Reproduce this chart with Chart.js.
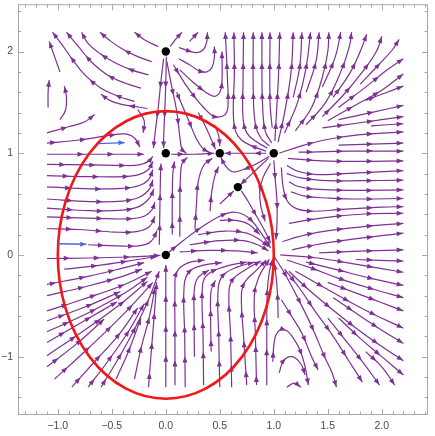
<!DOCTYPE html>
<html><head><meta charset="utf-8">
<script src="https://cdn.jsdelivr.net/npm/chart.js@4.4.1/dist/chart.umd.min.js"></script>
<style>html,body{margin:0;padding:0;background:#fff;}canvas{display:block;}</style>
</head><body>
<canvas id="c" width="435" height="436"></canvas>
<script>
// ---------- axis / tick data ----------
const xTickValues = [-1, -0.5, 0, 0.5, 1, 1.5, 2];
const xTickLabels = ['\u22121.0', '\u22120.5', '0.0', '0.5', '1.0', '1.5', '2.0'];
const yTickValues = [-1, 0, 1, 2];
const yTickLabels = ['\u22121', '0', '1', '2'];
const xRange = [-1.3685, 2.4278];
const yRange = [-1.5737, 2.4654];
const xMinorStep = 0.1, yMinorStep = 0.2;

// ---------- marked points ----------
const equilibria = [[0, 2], [0, 1], [0.5, 1], [1, 1], [0.667, 0.667], [0, 0]];
// ---------- red ellipse (centre, semi-axes) ----------
const ellipseCenter = [0, 0];
const ellipseRadii = [1, 1.414];
// ---------- blue vectors ----------
const blueArrows = [
  [[-0.625, 1.095], [-0.38, 1.105]],
  [[-1.0, 0.11], [-0.735, 0.105]]
];

// ---------- streamlines (in flow direction) ----------
const streamsLeft = [
  [[-1.1,1.2],[-0.9,1.26],[-0.75,1.31],[-0.66,1.38]],
  [[-1.1,1.1],[-0.8,1.13],[-0.55,1.17],[-0.38,1.19],[-0.29,1.15],[-0.24,1.06]],
  [[-1.1,0.99],[-0.8,0.99],[-0.5,0.99],[-0.2,0.99]],
  [[-1.1,0.89],[-0.7,0.885],[-0.4,0.88],[-0.25,0.885],[-0.16,0.92],[-0.12,0.97]],
  [[-1.1,0.78],[-0.7,0.77],[-0.4,0.77],[-0.25,0.79],[-0.16,0.84],[-0.12,0.92]],
  [[-1.1,0.67],[-0.7,0.65],[-0.4,0.655],[-0.25,0.68],[-0.16,0.74],[-0.12,0.84]],
  [[-1.1,0.55],[-0.7,0.525],[-0.4,0.53],[-0.24,0.57],[-0.15,0.65],[-0.12,0.74]],
  [[-1.1,0.46],[-0.7,0.435],[-0.4,0.44],[-0.24,0.48],[-0.15,0.56],[-0.11,0.65]],
  [[-1.1,0.375],[-0.65,0.36],[-0.35,0.355],[-0.2,0.38],[-0.13,0.44],[-0.1,0.52]],
  [[-1.1,0.26],[-0.8,0.25],[-0.47,0.225],[-0.27,0.23],[-0.15,0.28],[-0.1,0.38]],
  [[-0.72,0.1],[-0.45,0.09],[-0.25,0.09],[-0.14,0.13],[-0.08,0.24]],
  [[-1.1,-0.035],[-0.7,-0.03],[-0.35,-0.02],[-0.05,-0.005]],
  [[-0.06,0.1],[-0.055,0.45],[-0.05,0.75],[-0.045,0.9]]
];
const streamsLowerLeft = [
  [[-0.94,-0.14],[-0.57,-0.095],[-0.26,-0.045],[-0.08,-0.015]],
  [[-1.1,-0.29],[-0.72,-0.21],[-0.4,-0.13],[-0.2,-0.075]],
  [[-1.1,-0.4],[-0.72,-0.305],[-0.4,-0.21],[-0.22,-0.14]],
  [[-1.1,-0.55],[-0.78,-0.44],[-0.38,-0.29],[-0.13,-0.16]],
  [[-1.1,-0.65],[-0.72,-0.5],[-0.42,-0.36]],
  [[-1.1,-0.755],[-0.72,-0.57],[-0.38,-0.375],[-0.17,-0.22]],
  [[-1.1,-0.86],[-0.75,-0.645],[-0.45,-0.46]],
  [[-1.1,-0.99],[-0.78,-0.76],[-0.44,-0.5],[-0.17,-0.26]],
  [[-1.1,-1.1],[-0.81,-0.86],[-0.57,-0.63]],
  [[-1.03,-1.22],[-0.72,-0.92],[-0.38,-0.57],[-0.12,-0.27]],
  [[-0.87,-1.3],[-0.66,-1.05],[-0.44,-0.79],[-0.26,-0.52]],
  [[-0.72,-1.3],[-0.54,-1.05],[-0.35,-0.76],[-0.2,-0.48]],
  [[-0.6,-1.3],[-0.44,-1.02],[-0.29,-0.73],[-0.16,-0.44],[-0.06,-0.16]],
  [[-0.46,-1.22],[-0.35,-0.96],[-0.23,-0.62]],
  [[-0.29,-1.22],[-0.23,-0.92],[-0.15,-0.6],[-0.1,-0.32]],
  [[-0.16,-1.3],[-0.13,-0.89],[-0.1,-0.5],[-0.085,-0.27]],
  [[0.0,-1.3],[0.0,-0.9],[0.0,-0.5],[0.0,-0.1]]
];
const streamsBottom = [
  [[0.085,-1.28],[0.085,-0.8],[0.085,-0.35],[0.1,-0.17],[0.2,-0.08],[0.36,-0.05]],
  [[0.18,-1.3],[0.175,-0.8],[0.17,-0.3],[0.22,-0.16],[0.35,-0.1],[0.52,-0.075]],
  [[0.265,-1.0],[0.262,-0.6],[0.265,-0.33],[0.3,-0.22],[0.4,-0.15]],
  [[0.35,-1.28],[0.345,-0.8],[0.34,-0.3],[0.39,-0.19],[0.56,-0.11],[0.75,-0.07]],
  [[0.42,-0.95],[0.415,-0.6],[0.42,-0.35],[0.46,-0.25]],
  [[0.5,-1.3],[0.49,-0.8],[0.485,-0.33],[0.53,-0.2],[0.66,-0.12],[0.82,-0.07]],
  [[0.61,-1.3],[0.6,-0.8],[0.585,-0.36],[0.62,-0.24],[0.73,-0.15],[0.88,-0.06]],
  [[0.75,-1.28],[0.72,-0.8],[0.7,-0.4],[0.73,-0.27],[0.84,-0.15],[0.93,-0.05]],
  [[0.84,-1.28],[0.83,-0.8],[0.82,-0.4],[0.86,-0.22],[0.96,-0.04]],
  [[0.935,-1.28],[0.935,-0.8],[0.94,-0.35],[0.96,-0.16],[0.99,-0.04]],
  [[1.04,-0.62],[1.035,-0.4],[1.02,-0.2],[1.005,-0.08]],
  [[0.99,-1.05],[1.01,-0.82],[1.06,-0.735],[1.12,-0.745],[1.17,-0.8],[1.24,-0.93],[1.29,-1.1],[1.32,-1.28]],
  [[1.05,-1.16],[1.09,-1.04],[1.17,-1.0],[1.25,-1.07],[1.29,-1.18]],
  [[1.12,-1.3],[1.19,-1.26],[1.25,-1.3]]
];
const streamsLowerRight = [
  [[1.06,0.0],[1.4,-0.03],[1.7,-0.08],[2.0,-0.135],[2.2,-0.17]],
  [[1.3,-0.07],[1.6,-0.15],[1.9,-0.23],[2.2,-0.3]],
  [[1.12,-0.05],[1.35,-0.13],[1.6,-0.23],[1.9,-0.33],[2.2,-0.42]],
  [[1.5,-0.27],[1.75,-0.37],[2.0,-0.47],[2.2,-0.55]],
  [[1.2,-0.16],[1.4,-0.28],[1.65,-0.43],[1.9,-0.57],[2.2,-0.72]],
  [[1.55,-0.42],[1.8,-0.6],[2.0,-0.74],[2.2,-0.87]],
  [[1.14,-0.16],[1.3,-0.32],[1.5,-0.5],[1.75,-0.71],[2.0,-0.9],[2.2,-1.04]],
  [[1.6,-0.62],[1.8,-0.82],[2.0,-1.0],[2.2,-1.18]],
  [[1.1,-0.14],[1.24,-0.33],[1.38,-0.55],[1.55,-0.8],[1.7,-1.05],[1.82,-1.25]],
  [[1.5,-0.62],[1.65,-0.82],[1.82,-1.05],[1.98,-1.28]],
  [[1.0,-0.01],[1.1,-0.18],[1.23,-0.44],[1.35,-0.7],[1.47,-1.0],[1.54,-1.16],[1.58,-1.3]],
  [[1.07,-0.44],[1.17,-0.61],[1.26,-0.77],[1.35,-1.0],[1.41,-1.13]],
  [[1.85,-0.95],[2.0,-1.1],[2.12,-1.28]]
];
const streamsRight = [
  [[1.05,1.0],[1.25,1.07],[1.47,1.13],[1.78,1.18],[2.2,1.21]],
  [[1.6,1.08],[1.9,1.09],[2.2,1.1]],
  [[1.23,1.01],[1.7,1.02],[2.2,1.02]],
  [[1.13,0.95],[1.45,0.925],[1.8,0.92],[2.2,0.925]],
  [[1.12,0.88],[1.23,0.82],[1.4,0.79],[1.65,0.8],[2.2,0.83]],
  [[1.12,0.8],[1.26,0.755],[1.5,0.73],[1.8,0.73],[2.2,0.735]],
  [[1.14,0.72],[1.22,0.675],[1.35,0.65],[1.7,0.635],[2.2,0.64]],
  [[1.16,0.62],[1.3,0.575],[1.5,0.56],[1.8,0.55],[2.2,0.555]],
  [[1.07,0.86],[1.085,0.68],[1.12,0.54],[1.2,0.46],[1.35,0.43],[1.6,0.445],[2.0,0.47],[2.2,0.475]],
  [[1.14,0.31],[1.32,0.345],[1.57,0.38],[1.88,0.405],[2.2,0.41]],
  [[1.08,0.13],[1.23,0.18],[1.45,0.23],[1.85,0.28],[2.2,0.31]],
  [[1.17,0.05],[1.39,0.1],[1.7,0.15],[2.2,0.215]],
  [[1.42,0.02],[1.72,0.035],[2.2,0.05]],
  [[1.76,-0.045],[2.2,-0.06]],
  [[1.0,0.93],[1.015,0.72],[1.03,0.52],[1.03,0.33],[1.02,0.15]]
];
const streamsUpperRight = [
  [[0.93,1.02],[0.8,1.07],[0.7,1.13],[0.645,1.22],[0.625,1.4],[0.635,1.8],[0.63,2.19]],
  [[0.94,1.05],[0.83,1.12],[0.75,1.2],[0.715,1.35],[0.715,1.7],[0.72,2.19]],
  [[0.96,1.07],[0.88,1.15],[0.83,1.28],[0.81,1.6],[0.81,2.19]],
  [[0.98,1.1],[0.92,1.22],[0.895,1.5],[0.89,1.85],[0.89,2.19]],
  [[0.985,1.25],[0.965,1.5],[0.965,2.19]],
  [[1.01,1.12],[1.025,1.4],[1.045,1.8],[1.055,2.19]],
  [[1.04,1.11],[1.1,1.4],[1.16,1.8],[1.18,2.19]],
  [[1.18,1.55],[1.24,1.85],[1.26,2.19]],
  [[1.1,1.2],[1.22,1.5],[1.3,1.85],[1.34,2.19]],
  [[1.3,1.6],[1.39,1.9],[1.42,2.19]],
  [[1.2,1.22],[1.35,1.45],[1.45,1.75],[1.5,2.0],[1.51,2.19]],
  [[1.45,1.65],[1.57,1.95],[1.62,2.19]],
  [[1.3,1.28],[1.48,1.5],[1.62,1.8],[1.7,2.05],[1.72,2.19]],
  [[1.55,1.55],[1.7,1.78],[1.8,2.0],[1.86,2.17]],
  [[1.45,1.36],[1.65,1.58],[1.82,1.8],[1.95,2.0],[2.0,2.15]],
  [[1.8,1.68],[1.98,1.88],[2.1,2.02],[2.16,2.12]],
  [[1.6,1.45],[1.85,1.65],[2.05,1.82],[2.2,1.93]],
  [[1.5,1.32],[1.75,1.47],[2.0,1.62],[2.2,1.78]],
  [[1.85,1.52],[2.05,1.6],[2.2,1.66]],
  [[1.6,1.33],[1.9,1.4],[2.2,1.47]],
  [[1.45,1.25],[1.8,1.3],[2.2,1.36]],
  [[1.9,1.27],[2.2,1.29]]
];
const streamsTop = [
  [[0.07,1.87],[0.18,1.68],[0.27,1.55],[0.35,1.45],[0.43,1.37],[0.49,1.355],[0.55,1.38],[0.575,1.45],[0.57,1.75],[0.555,2.1],[0.55,2.19]],
  [[0.13,1.82],[0.25,1.7],[0.37,1.6],[0.45,1.56],[0.5,1.6],[0.52,1.7],[0.52,2.0]],
  [[0.12,1.93],[0.22,1.87],[0.31,1.81],[0.38,1.8],[0.43,1.85],[0.45,1.95],[0.45,2.05]],
  [[0.12,2.04],[0.2,2.01],[0.29,1.99],[0.35,2.02],[0.38,2.1],[0.385,2.19]],
  [[0.04,2.05],[0.09,2.12],[0.15,2.19]],
  [[0.22,2.1],[0.3,2.19]],
  [[-0.02,1.93],[-0.045,1.71],[-0.07,1.45],[-0.1,1.19],[-0.115,1.05]],
  [[0.005,1.95],[0.0,1.7],[-0.01,1.4],[-0.02,1.15],[-0.02,1.05]],
  [[0.01,1.9],[0.05,1.68],[0.1,1.42],[0.13,1.16],[0.15,1.04],[0.19,1.0]],
  [[0.1,1.6],[0.16,1.45],[0.22,1.3],[0.28,1.15],[0.34,1.05],[0.4,1.01]],
  [[0.3,1.4],[0.36,1.28],[0.42,1.14],[0.46,1.04]],
  [[0.45,1.28],[0.49,1.17],[0.5,1.07]],
  [[0.93,1.0],[0.75,1.0],[0.6,1.0],[0.54,1.0]],
  [[0.05,0.99],[0.25,0.99],[0.45,1.0]]
];
const streamsUpperLeft = [
  [[-0.13,1.9],[-0.26,1.95],[-0.41,2.03],[-0.52,2.11],[-0.61,2.19]],
  [[-0.16,1.77],[-0.32,1.82],[-0.47,1.89],[-0.61,1.98],[-0.72,2.08],[-0.78,2.19]],
  [[-0.23,1.64],[-0.38,1.69],[-0.54,1.77],[-0.69,1.9],[-0.81,2.05],[-0.92,2.19]],
  [[-0.29,1.51],[-0.44,1.56],[-0.6,1.64],[-0.75,1.77],[-0.87,1.93],[-0.97,2.08],[-1.05,2.19]],
  [[-0.07,2.05],[-0.19,2.11],[-0.29,2.19]],
  [[-0.98,1.33],[-0.93,1.42],[-0.92,1.55],[-0.94,1.66]],
  [[-1.09,1.45],[-1.09,1.6],[-1.08,1.72]],
  [[-0.17,1.44],[-0.29,1.46],[-0.41,1.48],[-0.52,1.52],[-0.6,1.58]],
  [[-0.26,1.43],[-0.2,1.32],[-0.21,1.2]],
  [[-0.98,1.8],[-1.03,1.95],[-1.08,2.1]]
];
const streamsInner = [
  [[0.13,0.18],[0.13,0.45],[0.135,0.75],[0.15,0.9],[0.2,0.96]],
  [[0.27,0.26],[0.285,0.52],[0.3,0.72],[0.35,0.88],[0.43,0.95]],
  [[0.41,0.43],[0.425,0.62],[0.455,0.78],[0.49,0.87]],
  [[0.06,0.2],[0.06,0.55],[0.065,0.8],[0.08,0.92]],
  [[0.96,0.97],[0.81,0.88],[0.69,0.83],[0.61,0.82],[0.55,0.88],[0.51,0.96]],
  [[0.95,0.95],[0.85,0.85],[0.75,0.75],[0.69,0.69]],
  [[0.97,0.9],[0.9,0.76],[0.87,0.62],[0.88,0.48],[0.92,0.33]],
  [[0.7,0.63],[0.76,0.53],[0.83,0.4],[0.91,0.25],[0.97,0.12]],
  [[0.5,0.5],[0.56,0.56],[0.63,0.63]],
  [[0.01,0.01],[0.16,0.14],[0.34,0.28],[0.52,0.39],[0.64,0.42],[0.76,0.37],[0.88,0.22],[0.97,0.07]],
  [[0.5,0.34],[0.65,0.34],[0.77,0.3],[0.87,0.2]],
  [[0.3,0.2],[0.55,0.235],[0.75,0.215],[0.87,0.15],[0.95,0.08]],
  [[0.22,0.1],[0.5,0.14],[0.72,0.14],[0.87,0.09],[0.95,0.04]],
  [[0.13,0.03],[0.41,0.045],[0.66,0.04],[0.85,0.02]]
];

// ---------- styles ----------
const PURPLE = 'rgb(126,48,148)';
const BLUE = 'rgb(68,108,226)';
const RED = 'rgb(240,24,24)';
const FRAME = '#a8a8a8';
const LABEL = '#4a4a4a';

const toXY = line => line.map(p => ({ x: p[0], y: p[1] }));
const datasets = [];
[streamsLeft, streamsLowerLeft, streamsBottom, streamsLowerRight, streamsRight,
 streamsUpperRight, streamsTop, streamsUpperLeft, streamsInner].forEach(group => {
  group.forEach(line => datasets.push({
    kind: 'stream', data: toXY(line), borderColor: PURPLE, borderWidth: 1.2,
    pointRadius: 0, pointHoverRadius: 0, tension: 0.4, fill: false, order: 10
  }));
});
blueArrows.forEach(line => datasets.push({
  kind: 'blue', data: toXY(line), borderColor: BLUE, borderWidth: 1.3,
  pointRadius: 0, pointHoverRadius: 0, tension: 0, fill: false, order: 5
}));
datasets.push({
  kind: 'dots', data: toXY(equilibria), showLine: false, pointRadius: 4.2,
  pointHoverRadius: 4.2, pointBackgroundColor: '#000', pointBorderWidth: 0, order: 1
});

function densePath(pts) {
  const out = [{ x: pts[0].x, y: pts[0].y }];
  for (let i = 0; i < pts.length - 1; i++) {
    const a = pts[i], b = pts[i + 1];
    const c1x = a.cp2x ?? a.x, c1y = a.cp2y ?? a.y;
    const c2x = b.cp1x ?? b.x, c2y = b.cp1y ?? b.y;
    for (let k = 1; k <= 14; k++) {
      const t = k / 14, u = 1 - t;
      out.push({
        x: u*u*u*a.x + 3*u*u*t*c1x + 3*u*t*t*c2x + t*t*t*b.x,
        y: u*u*u*a.y + 3*u*u*t*c1y + 3*u*t*t*c2y + t*t*t*b.y
      });
    }
  }
  return out;
}
function pointAt(path, cum, s) {
  let i = 1;
  while (i < cum.length - 1 && cum[i] < s) i++;
  const seg = cum[i] - cum[i - 1] || 1;
  const t = Math.max(0, Math.min(1, (s - cum[i - 1]) / seg));
  return { x: path[i-1].x + (path[i].x - path[i-1].x) * t, y: path[i-1].y + (path[i].y - path[i-1].y) * t };
}
function drawHead(ctx, tip, from, color, len, hw) {
  const ang = Math.atan2(tip.y - from.y, tip.x - from.x);
  ctx.save();
  ctx.translate(tip.x, tip.y);
  ctx.rotate(ang);
  ctx.fillStyle = color;
  ctx.beginPath();
  ctx.moveTo(0, 0);
  ctx.lineTo(-len, hw);
  ctx.lineTo(-len, -hw);
  ctx.closePath();
  ctx.fill();
  ctx.restore();
}
function drawArrows(ctx, meta, color, spacing, endOnly) {
  const path = densePath(meta.data);
  const cum = [0];
  for (let i = 1; i < path.length; i++) cum.push(cum[i-1] + Math.hypot(path[i].x - path[i-1].x, path[i].y - path[i-1].y));
  const L = cum[cum.length - 1];
  const pos = [];
  if (endOnly) pos.push(L);
  else for (let s = L - 0.5; s > 9; s -= spacing) pos.push(s);
  if (!pos.length) pos.push(L);
  pos.forEach(s => drawHead(ctx, pointAt(path, cum, s), pointAt(path, cum, Math.max(0, s - 4)), color, 6.2, 2.5));
}

let ellipseDone = false;
const drawPlugin = {
  id: 'streamDecor',
  beforeDatasetsDraw(chart) {
    ellipseDone = false;
    const { ctx, chartArea: a, scales: { x, y } } = chart;
    ctx.save();
    ctx.strokeStyle = FRAME;
    ctx.lineWidth = 1;
    ctx.strokeRect(a.left + 0.5, a.top + 0.5, a.right - a.left - 1, a.bottom - a.top - 1);
    ctx.beginPath();
    for (let v = Math.ceil(xRange[0] / xMinorStep) * xMinorStep; v <= xRange[1]; v += xMinorStep) {
      const vv = Math.round(v * 10) / 10;
      const major = xTickValues.some(t => Math.abs(t - vv) < 1e-6);
      const len = major ? 6 : 3.5;
      const px = Math.round(x.getPixelForValue(vv)) + 0.5;
      ctx.moveTo(px, a.bottom); ctx.lineTo(px, a.bottom - len);
      ctx.moveTo(px, a.top); ctx.lineTo(px, a.top + len);
    }
    for (let v = Math.ceil(yRange[0] / yMinorStep) * yMinorStep; v <= yRange[1]; v += yMinorStep) {
      const vv = Math.round(v * 10) / 10;
      const major = yTickValues.some(t => Math.abs(t - vv) < 1e-6);
      const len = major ? 6 : 3.5;
      const py = Math.round(y.getPixelForValue(vv)) + 0.5;
      ctx.moveTo(a.left, py); ctx.lineTo(a.left + len, py);
      ctx.moveTo(a.right, py); ctx.lineTo(a.right - len, py);
    }
    ctx.stroke();
    ctx.restore();
  },
  beforeDatasetDraw(chart, args) {
    const ds = chart.data.datasets[args.index];
    if ((ds.kind === 'blue' || ds.kind === 'dots') && !ellipseDone) {
      ellipseDone = true;
      const { ctx, scales: { x, y } } = chart;
      const cx = x.getPixelForValue(ellipseCenter[0]);
      const cy = y.getPixelForValue(ellipseCenter[1]);
      const rx = x.getPixelForValue(ellipseCenter[0] + ellipseRadii[0]) - cx;
      const ry = cy - y.getPixelForValue(ellipseCenter[1] + ellipseRadii[1]);
      ctx.save();
      ctx.strokeStyle = RED;
      ctx.lineWidth = 2.6;
      ctx.beginPath();
      ctx.ellipse(cx, cy, rx, ry, 0, 0, Math.PI * 2);
      ctx.stroke();
      ctx.restore();
    }
  },
  afterDatasetDraw(chart, args) {
    const ds = chart.data.datasets[args.index];
    if (ds.kind === 'stream') drawArrows(chart.ctx, args.meta, PURPLE, 30, false);
    else if (ds.kind === 'blue') drawArrows(chart.ctx, args.meta, BLUE, 0, true);
  }
};

const tickFont = { family: "'Liberation Sans', Arial, sans-serif", size: 10.5 };
new Chart(document.getElementById('c'), {
  type: 'line',
  data: { datasets },
  options: {
    responsive: false,
    animation: false,
    devicePixelRatio: 1,
    layout: { padding: { top: 1, right: 7, left: 0, bottom: 0 } },
    plugins: { legend: { display: false }, tooltip: { enabled: false } },
    events: [],
    scales: {
      x: {
        type: 'linear', position: 'bottom', min: xRange[0], max: xRange[1],
        grid: { display: false, drawTicks: false }, border: { display: false },
        afterBuildTicks: axis => { axis.ticks = xTickValues.map(v => ({ value: v })); },
        afterFit: axis => { axis.height = 21; axis.paddingLeft = 0; axis.paddingRight = 0; },
        ticks: { autoSkip: false, maxRotation: 0, minRotation: 0, padding: 5, color: LABEL, font: tickFont,
          callback: (v, i) => xTickLabels[i] }
      },
      y: {
        type: 'linear', position: 'left', min: yRange[0], max: yRange[1],
        grid: { display: false, drawTicks: false }, border: { display: false },
        afterBuildTicks: axis => { axis.ticks = yTickValues.map(v => ({ value: v })); },
        afterFit: axis => { axis.width = 18; axis.paddingTop = 0; axis.paddingBottom = 0; },
        ticks: { autoSkip: false, padding: 5, color: LABEL, font: tickFont,
          callback: (v, i) => yTickLabels[i] }
      }
    }
  },
  plugins: [drawPlugin]
});
</script>
</body></html>
